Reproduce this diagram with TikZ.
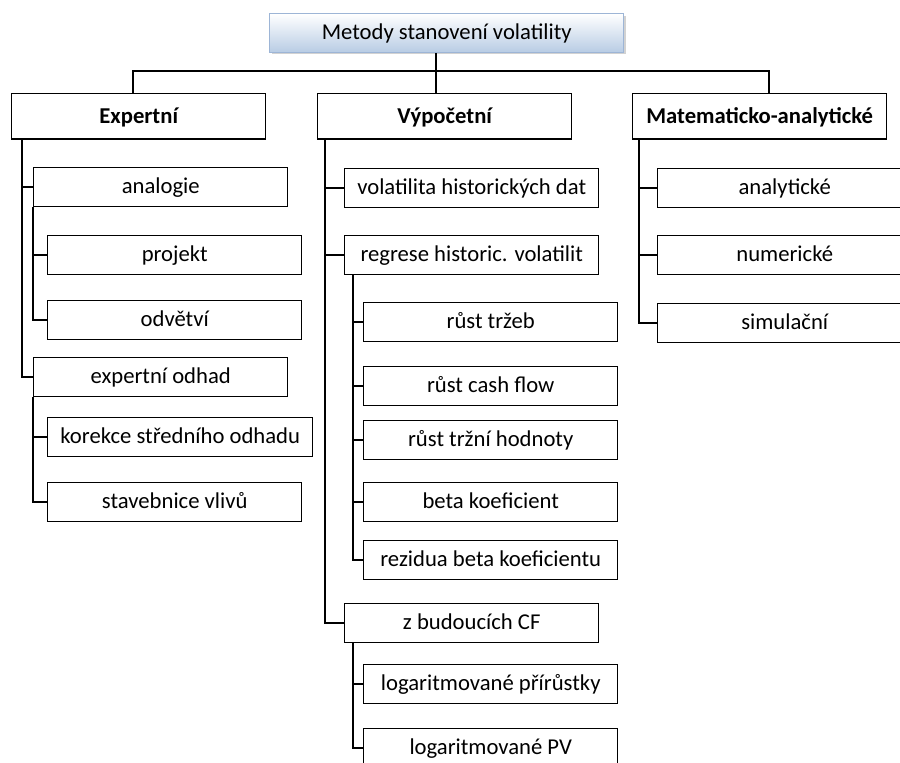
\documentclass[tikz,border=0pt]{standalone}
\usepackage{fontspec}
\setmainfont{Carlito}
\usetikzlibrary{shadows}
\definecolor{topfill}{HTML}{B8CCE4}
\definecolor{topline}{HTML}{9DB5D6}
\tikzset{
  box/.style = {draw, line width=1.1pt, anchor=north west, minimum width=190.5pt, minimum height=29pt, inner sep=0pt, text height=13pt, text depth=3pt, font=\fontsize{17}{20}\selectfont},
  head/.style = {box, minimum height=34pt, font=\fontsize{17}{20}\selectfont\bfseries},
  link/.style = {line width=1.1pt}
}
\begin{document}
\begin{tikzpicture}[x=0.75pt, y=-0.75pt]
\useasboundingbox (0,0) rectangle (900,763);
\clip (0,0) rectangle (900,763);
% root
\node[box, draw=topline, top color=white, bottom color=topfill, minimum width=265.5pt, drop shadow={shadow xshift=1.5pt, shadow yshift=-1.5pt, fill=black!35}] (root) at (269,13) {Metody stanovení volatility};
% three groups
\node[head] (exp) at (11,93) {Expertní};
\node[head] (vyp) at (317,93) {Výpočetní};
\node[head] (mat) at (632,93) {Matematicko-analytické};
% Expertni
\node[box] (analogie) at (33,167) {analogie};
\node[box] (projekt) at (47,235) {projekt};
\node[box] (odvetvi) at (47,300) {odvětví};
\node[box] (odhad) at (33,357) {expertní odhad};
\node[box, minimum width=198.75pt] (korekce) at (47,417) {korekce středního odhadu};
\node[box] (stavebnice) at (47,482) {stavebnice vlivů};
% Vypocetni
\node[box] (historie) at (344,168) {volatilita historických dat};
\node[box] (regrese) at (344,235) {regrese historic. volatilit};
\node[box] (trzby) at (363,302) {růst tržeb};
\node[box] (cashflow) at (363,366) {růst cash flow};
\node[box] (hodnota) at (363,420) {růst tržní hodnoty};
\node[box] (beta) at (363,482) {beta koeficient};
\node[box] (rezidua) at (363,540) {rezidua beta koeficientu};
\node[box] (budouci) at (344,603) {z budoucích CF};
\node[box] (prirustky) at (363,664) {logaritmované přírůstky};
\node[box] (pv) at (363,728) {logaritmované PV};
% Matematicko-analyticke
\node[box] (analyticke) at (657,168) {analytické};
\node[box] (numericke) at (657,235) {numerické};
\node[box] (simulacni) at (657,303) {simulační};
% bus
\coordinate (busL) at (133,71);
\coordinate (busM) at (436,71);
\coordinate (busR) at (769,71);
\draw[link] (busL |- exp.north) -- (busL) -- (busR) -- (busR |- mat.north);
\draw[link] (busM |- root.south) -- (busM |- vyp.north);
% spines
\foreach \n in {analogie, odhad}
  \draw[link] ([xshift=8.25pt]exp.south west) |- (\n.west);
\foreach \n in {projekt, odvetvi}
  \draw[link] (analogie.south west) |- (\n.west);
\foreach \n in {korekce, stavebnice}
  \draw[link] (odhad.south west) |- (\n.west);
\foreach \n in {historie, regrese, budouci}
  \draw[link] ([xshift=6pt]vyp.south west) |- (\n.west);
\foreach \n in {trzby, cashflow, hodnota, beta, rezidua}
  \draw[link] ([xshift=6.75pt]regrese.south west) |- (\n.west);
\foreach \n in {prirustky, pv}
  \draw[link] ([xshift=6.75pt]budouci.south west) |- (\n.west);
\foreach \n in {analyticke, numericke, simulacni}
  \draw[link] ([xshift=5.25pt]mat.south west) |- (\n.west);
\end{tikzpicture}
\end{document}
